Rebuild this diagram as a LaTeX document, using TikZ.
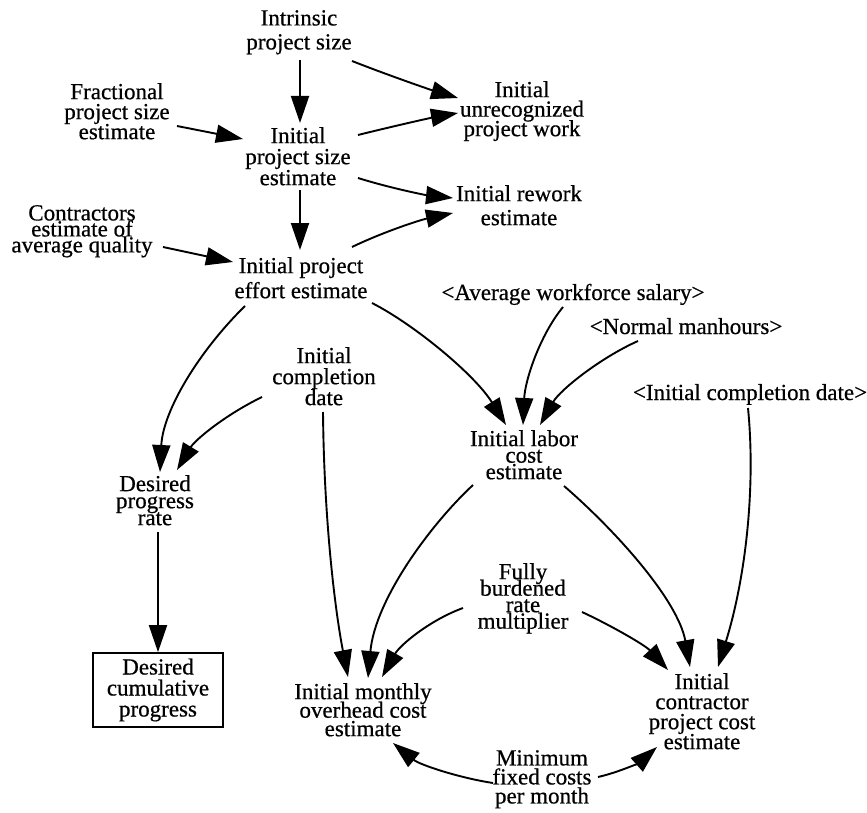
\documentclass[tikz,border=0pt]{standalone}
\usepackage{fontspec}
\setmainfont{Liberation Serif}[FakeBold=0.6]
\usetikzlibrary{arrows.meta}
% text at 23pt with a chosen line pitch, no extra leading
\newcommand\varfont[1]{\fontsize{23pt}{#1pt}\selectfont\lineskiplimit=-50pt\relax\lineskip=0pt\relax}
\tikzset{
  lbl/.style={align=center, inner sep=0pt, anchor=north, font=\varfont{#1}},
  lbl/.default=20,
  refvar/.style={inner sep=0pt, anchor=base, font=\varfont{24}},
  arr/.style={line width=1.9pt, -{Triangle[length=27pt,width=18pt]}},
  stockbox/.style={draw, line width=1.7pt, inner sep=0pt, minimum width=130pt,
    minimum height=74pt, align=center, font=\varfont{21}}
}
\begin{document}
\begin{tikzpicture}[x=1pt,y=1pt]
\fill[white] (0,0) rectangle (867,-813);
\useasboundingbox (0,0) rectangle (867,-813);

% variables
\node[lbl=24] (isz) at (299,-10) {Intrinsic\\project size};
\node[lbl=20] (fps) at (117,-83) {Fractional\\project size\\estimate};
\node[lbl=21] (ips) at (298,-127) {Initial\\project size\\estimate};
\node[lbl=19.5] (iupw) at (522,-81) {Initial\\unrecognized\\project work};
\node[lbl=24] (rew) at (519,-185) {Initial rework\\estimate};
\node[lbl=16] (con) at (82,-205) {Contractors\\estimate of\\average quality};
\node[lbl=25] (ipe) at (301,-257) {Initial project\\effort estimate};
\node[refvar] (avg) at (573,-300) {<Average workforce salary>};
\node[refvar] (nmh) at (686,-334) {<Normal manhours>};
\node[refvar] (icd2) at (750,-400) {<Initial completion date>};
\node[lbl=16.5] (lab) at (524,-430) {Initial labor\\cost\\estimate};
\node[lbl=21] (icd) at (324,-347) {Initial\\completion\\date};
\node[lbl=17] (dpr) at (155,-475) {Desired\\progress\\rate};
\node[stockbox] (dcp) at (158,-690) {Desired\\cumulative\\progress};
\node[lbl=16.5] (fbr) at (523,-563) {Fully\\burdened\\rate\\multiplier};
\node[lbl=18.5] (ovh) at (363,-683) {Initial monthly\\overhead cost\\estimate};
\node[lbl=20] (ctr) at (702,-673) {Initial\\contractor\\project cost\\estimate};
\node[lbl=19] (mfc) at (542,-750) {Minimum\\fixed costs\\per month};

% project size links
\draw[arr] ([shift={(1,-50)}]isz.north) -- ([shift={(2,4)}]ips.north);
\draw[arr] ([shift={(53,-51)}]isz.north) .. controls +(33,-13) and +(-30,9) .. ([shift={(-64,-17)}]iupw.north);
\draw[arr] ([shift={(60,-43)}]fps.north) -- ([shift={(-55,-12)}]ips.north);
\draw[arr] ([shift={(60,-8)}]ips.north) .. controls +(32,8) and +(-28,-5) .. ([shift={(-64,-32)}]iupw.north);
\draw[arr] ([shift={(60,-51)}]ips.north) .. controls +(32,-10) and +(-28,3) .. ([shift={(-66,-13)}]rew.north);
\draw[arr] ([shift={(2,-63)}]ips.north) -- ([shift={(-1,7)}]ipe.north);
\draw[arr] ([shift={(81,-42)}]con.north) -- ([shift={(-68,-5)}]ipe.north);
\draw[arr] ([shift={(51,10)}]ipe.north) .. controls +(31,15) and +(-33,-7) .. ([shift={(-66,-28)}]rew.north);

% progress
\draw[arr] ([shift={(-56,-49)}]ipe.north) .. controls +(-45,-44) and +(3,62) .. ([shift={(5,3)}]dpr.north);
\draw[arr] ([shift={(-62,-50)}]icd.north) .. controls +(-37,-18) and +(18,30) .. ([shift={(22,5)}]dpr.north);
\draw[arr] ([shift={(3,-57)}]dpr.north) -- (dcp.north);

% labor cost
\draw[arr] ([shift={(71,-46)}]ipe.north) .. controls +(43,-22) and +(-31,50) .. ([shift={(-18,5)}]lab.north);
\draw[arr] ([shift={(-10,-7)}]avg.base) .. controls +(-23,-28) and +(2,45) .. ([shift={(-1,5)}]lab.north);
\draw[arr] ([shift={(-48,-7)}]nmh.base) .. controls +(-38,-17) and +(20,35) .. ([shift={(16,5)}]lab.north);

% overhead and contractor cost
\draw[arr] ([shift={(-2,-8)}]icd2.base) .. controls +(8,-82) and +(27,87) .. ([shift={(16,6)}]ctr.north);
\draw[arr] ([shift={(-1,-65)}]icd.north) .. controls +(1,-108) and +(-13,67) .. ([shift={(-15,6)}]ovh.north);
\draw[arr] ([shift={(-51,-55)}]lab.north) .. controls +(-43,-40) and +(7,78) .. ([shift={(5,5)}]ovh.north);
\draw[arr] ([shift={(-60,-45)}]fbr.north) .. controls +(-33,-12) and +(18,32) .. ([shift={(19,6)}]ovh.north);
\draw[arr] ([shift={(40,-56)}]lab.north) .. controls +(51,-44) and +(-12,67) .. ([shift={(-12,6)}]ctr.north);
\draw[arr] ([shift={(59,-49)}]fbr.north) .. controls +(28,-13) and +(-23,25) .. ([shift={(-34,3)}]ctr.north);
\draw[arr] ([shift={(-49,-33)}]mfc.north) .. controls +(-33,5) and +(27,-22) .. ([shift={(30,-60)}]ovh.north);
\draw[arr] ([shift={(56,-27)}]mfc.north) .. controls +(22,5) and +(-17,-15) .. ([shift={(-45,-74)}]ctr.north);
\end{tikzpicture}
\end{document}
